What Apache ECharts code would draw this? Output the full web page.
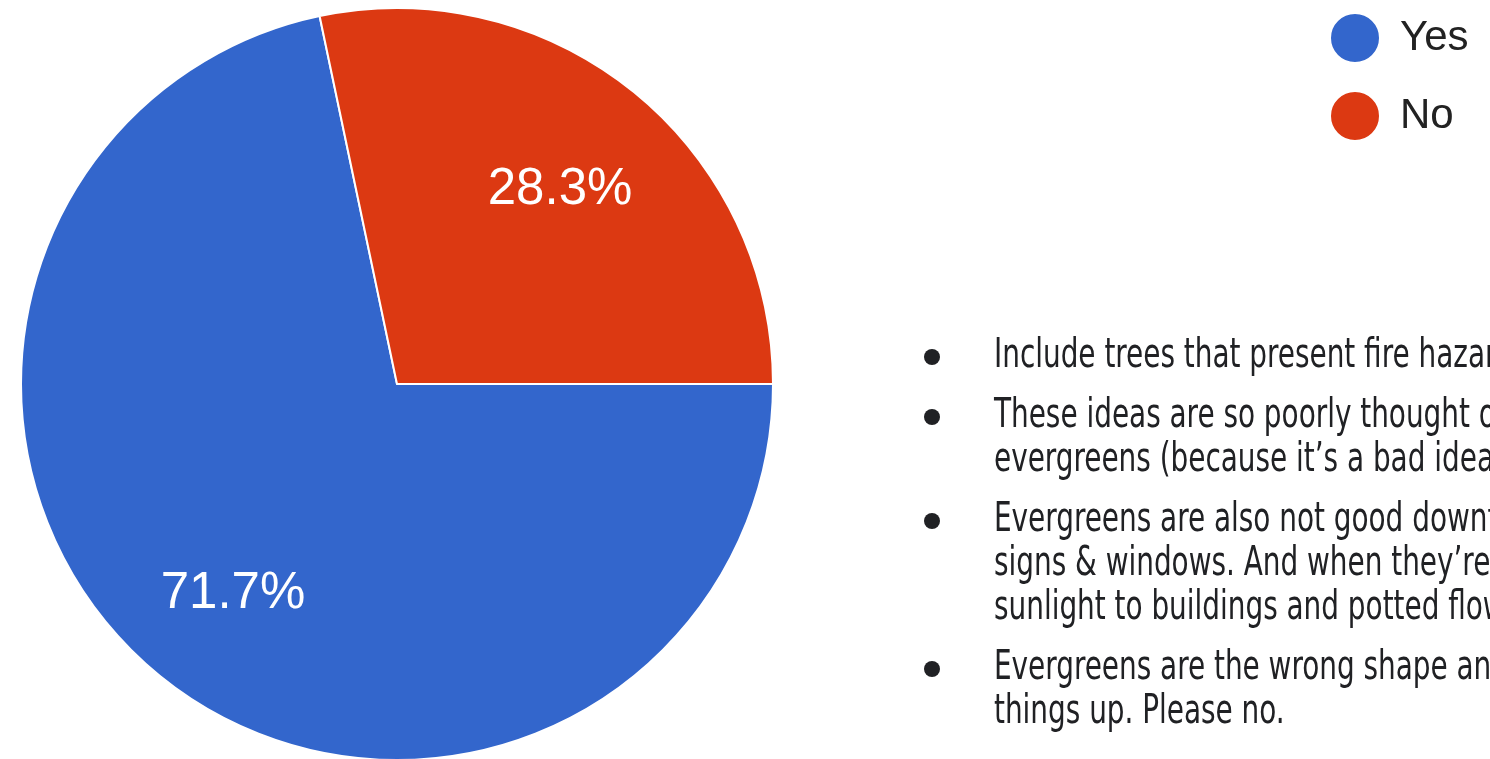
<!DOCTYPE html>
<html>
<head>
<meta charset="utf-8">
<script src="https://cdn.jsdelivr.net/npm/echarts@6/dist/echarts.min.js"></script>
<style>
html,body{margin:0;padding:0;background:#fff;}
#chart{width:1490px;height:759px;}
</style>
</head>
<body>
<div id="chart"></div>
<script>
// ---- data ----
const categories = ['Yes', 'No'];
const percentages = [71.7, 28.3];
const seriesColors = ['#3366cc', '#dc3912'];
const commentParagraphs = [
  ['Include trees that present fire hazards.'],
  ['These ideas are so poorly thought out', 'evergreens (because it\u2019s a bad idea).'],
  ['Evergreens are also not good downtown', 'signs & windows. And when they\u2019re m', 'sunlight to buildings and potted flowers'],
  ['Evergreens are the wrong shape and', 'things up. Please no.']
];

// ---- layout ----
const labelOffsets = [[2, 5], [-3, 11]];
const textX = 994, bulletX = 932, firstY = 357, lineH = 44, paraGap = 16;
const textFont = '40px "Liberation Sans Narrow", "DejaVu Sans Condensed", "Liberation Sans", sans-serif';
const graphics = [];
let y = firstY;
commentParagraphs.forEach(function (para) {
  graphics.push({ type: 'circle', shape: { cx: bulletX, cy: y, r: 8 }, style: { fill: '#202124' }, silent: true });
  para.forEach(function (line) {
    graphics.push({
      type: 'text', x: textX, y: y, scaleX: 0.775, silent: true,
      style: { text: line, x: 0, y: 0, font: textFont, fill: '#202124', verticalAlign: 'middle', textVerticalAlign: 'middle' }
    });
    y += lineH;
  });
  y += paraGap;
});

const pieData = categories.map(function (c, i) {
  return { name: c, value: percentages[i], itemStyle: { color: seriesColors[i] } };
});

const chart = echarts.init(document.getElementById('chart'), null, { renderer: 'canvas' });
chart.setOption({
  animation: false,
  backgroundColor: '#ffffff',
  legend: {
    orient: 'vertical', left: 1329, top: 12, padding: 0,
    data: categories, icon: 'circle', itemWidth: 50, itemHeight: 50, itemGap: 26,
    selectedMode: false,
    textStyle: { fontSize: 42, color: '#222222', fontFamily: '"Liberation Sans", Arial, sans-serif', padding: [0, 0, 0, 15] }
  },
  series: [
    {
      type: 'pie', name: 'answers', center: [397, 384], radius: [0, 376],
      startAngle: 0, clockwise: true, silent: true,
      label: { show: false }, labelLine: { show: false },
      itemStyle: { borderColor: '#ffffff', borderWidth: 2 },
      data: pieData
    },
    {
      type: 'pie', name: 'labels', center: [397, 384], radius: [145, 376],
      startAngle: 0, clockwise: true, silent: true,
      itemStyle: { color: 'rgba(0,0,0,0)', borderWidth: 0 },
      label: {
        show: true, position: 'inside', formatter: function (p) { return p.value.toFixed(1) + '%'; },
        color: '#ffffff', fontSize: 51, fontFamily: '"Liberation Sans", Arial, sans-serif'
      },
      labelLine: { show: false },
      data: categories.map(function (c, i) {
        return { name: c, value: percentages[i], label: { offset: labelOffsets[i] } };
      })
    }
  ],
  graphic: graphics
});
</script>
</body>
</html>
